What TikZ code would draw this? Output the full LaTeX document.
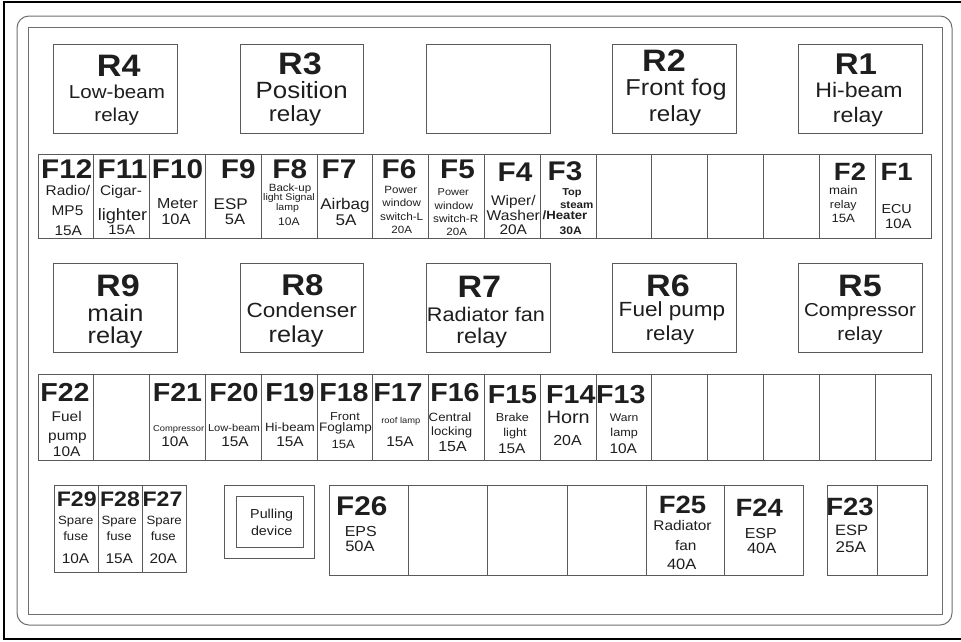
\documentclass[tikz,border=0pt]{standalone}
\usepackage{fontspec}
\newfontfamily\rg[FakeStretch=1.1]{Liberation Sans}
\definecolor{ln}{HTML}{5A5A5A}
\definecolor{fr}{HTML}{6E6E6E}
\definecolor{tc}{HTML}{1E1E1E}
\tikzset{
  txt/.style={anchor=base, inner sep=0pt, outer sep=0pt, text=tc},
  box/.style={draw=ln, line width=0.9pt, inner sep=0pt, outer sep=0pt},
}
\newcommand\bx[5]{%
  \pgfmathsetmacro\bw{#4-#2}\pgfmathsetmacro\bh{#5-#3}%
  \node[box, minimum width=\bw pt, minimum height=\bh pt] (#1) at ({(#2+#4)/2},{(#3+#5)/2}) {};}
\newcommand\T[5]{\node[txt] (#1) at (#2,#3) {\rg\fontsize{#4}{#4}\selectfont #5};}
\newcommand\B[5]{\node[txt] (#1) at (#2,#3) {\rg\bfseries\fontsize{#4}{#4}\selectfont #5};}
\begin{document}
\begin{tikzpicture}[x=1pt,y=-1pt]
\useasboundingbox (0,0) rectangle (961,641);
% frames
\draw[line width=2.5pt, black] (962,2) -- (4,2) -- (4,639) -- (962,639);
\draw[fr, line width=1pt, rounded corners=12pt] (17,16) rectangle (952,625);
\draw[fr, line width=1pt] (28,27) rectangle (942,614);
% relay boxes
\bx{R4}{53}{44}{177}{133}
\bx{R3}{240}{44}{363}{133}
\bx{RX}{426}{44}{550}{133}
\bx{R2}{612}{44}{736}{133}
\bx{R1}{798}{44}{922}{133}
\bx{R9}{53}{263}{177}{352}
\bx{R8}{240}{263}{363}{352}
\bx{R7}{426}{263}{550}{352}
\bx{R6}{612}{263}{736}{352}
\bx{R5}{798}{263}{922}{352}
% fuse strips
\foreach \i in {0,...,15}{%
  \pgfmathsetmacro\xa{38+55.8125*\i}\pgfmathsetmacro\xb{38+55.8125*(\i+1)}%
  \bx{ua\i}{\xa}{154}{\xb}{238}
  \bx{ub\i}{\xa}{374}{\xb}{460}}
% bottom row
\bx{s1}{54}{485}{98}{572}
\bx{s2}{98}{485}{142}{572}
\bx{s3}{142}{485}{186}{572}
\bx{pd}{224}{485}{314}{558}
\bx{pdi}{236}{496}{303}{547}
\bx{m1}{329}{485}{408}{575}
\bx{m2}{408}{485}{487}{575}
\bx{m3}{487}{485}{567}{575}
\bx{m4}{567}{485}{646}{575}
\bx{m5}{646}{485}{724}{575}
\bx{m6}{724}{485}{803}{575}
\bx{n1}{827}{485}{877}{575}
\bx{n2}{877}{485}{927}{575}
% relay texts row 1
\B{R4a}{118.7}{76}{31}{R4}
\T{R4b}{117}{98.3}{18.7}{Low-beam}
\T{R4c}{116.7}{121.7}{18.7}{relay}
\B{R3a}{300}{74}{31}{R3}
\T{R3b}{301.7}{98.3}{23.5}{Position}
\T{R3c}{295}{121.7}{22}{relay}
\B{R2a}{664}{71.7}{31}{R2}
\T{R2b}{676}{95}{23}{Front fog}
\T{R2c}{675}{121.7}{22}{relay}
\B{R1a}{856}{74.5}{30}{R1}
\T{R1b}{859}{97}{21}{Hi-beam}
\T{R1c}{858}{122}{21}{relay}
% relay texts row 2
\B{R9a}{118}{296.7}{31}{R9}
\T{R9b}{115.5}{321.7}{23.5}{main}
\T{R9c}{115}{343.3}{23}{relay}
\B{R8a}{302.5}{295.5}{30}{R8}
\T{R8b}{301.7}{317}{20.5}{Condenser}
\T{R8c}{296}{342}{23}{relay}
\B{R7a}{479.3}{297.7}{31}{R7}
\T{R7b}{486}{321.7}{19.7}{Radiator fan}
\T{R7c}{481.7}{343.3}{21.3}{relay}
\B{R6a}{668}{296.7}{31}{R6}
\T{R6b}{672}{316.7}{20.5}{Fuel pump}
\T{R6c}{670}{340}{20.3}{relay}
\B{R5a}{860}{296.7}{31}{R5}
\T{R5b}{860}{316.7}{18.7}{Compressor}
\T{R5c}{860}{340}{18.9}{relay}
% fuse row 1
\B{F12a}{66.7}{178.3}{27}{F12}
\T{F12b}{68}{195.7}{14}{Radio/}
\T{F12c}{67.5}{215.7}{14}{MP5}
\T{F12d}{68.3}{235.7}{14}{15A}
\B{F11a}{122.5}{178}{27}{F11}
\T{F11b}{121}{195}{14}{Cigar-}
\T{F11c}{122.5}{220}{16.5}{lighter}
\T{F11d}{121.7}{234}{13.5}{15A}
\B{F10a}{177.5}{178}{27}{F10}
\T{F10b}{177.5}{208.5}{14.5}{Meter}
\T{F10c}{176}{224}{15}{10A}
\B{F9a}{238.3}{178}{27}{F9}
\T{F9b}{230.8}{209.5}{15.5}{ESP}
\T{F9c}{235}{224}{15}{5A}
\B{F8a}{289.7}{178}{27}{F8}
\T{F8b}{290}{191}{10.5}{Back-up}
\T{F8c}{289}{200.5}{9.6}{light Signal}
\T{F8d}{287.5}{210}{9.6}{lamp}
\T{F8e}{289}{225.5}{11}{10A}
\B{F7a}{339}{178}{27}{F7}
\T{F7b}{345}{209.5}{15.5}{Airbag}
\T{F7c}{346}{225}{15.5}{5A}
\B{F6a}{399}{178}{27}{F6}
\T{F6b}{400.8}{193.3}{10.5}{Power}
\T{F6c}{401.7}{206.7}{10.5}{window}
\T{F6d}{401.7}{220}{10.7}{switch-L}
\T{F6e}{401.7}{233.3}{10.5}{20A}
\B{F5a}{457.5}{178}{27}{F5}
\T{F5b}{453.3}{195}{10}{Power}
\T{F5c}{454}{209}{10.5}{window}
\T{F5d}{455.8}{222.3}{10.7}{switch-R}
\T{F5e}{456.7}{235.7}{10.5}{20A}
\B{F4a}{515}{181.7}{27}{F4}
\T{F4b}{513.3}{205}{14}{Wiper/}
\T{F4c}{513.3}{220}{14.2}{Washer}
\T{F4d}{513.3}{234.5}{14}{20A}
\B{F3a}{565}{180}{27}{F3}
\B{F3b}{572}{195}{10}{Top}
\B{F3c}{576.7}{208.3}{10.5}{steam}
\B{F3d}{565}{219.5}{12}{/Heater}
\B{F3e}{570.8}{234.3}{11}{30A}
\B{F2a}{850}{180}{25}{F2}
\T{F2b}{843.3}{194}{12}{main}
\T{F2c}{843.3}{208}{11.2}{relay}
\T{F2d}{843.3}{222}{12}{15A}
\B{F1a}{896.7}{180}{25}{F1}
\T{F1b}{896.7}{213.3}{13}{ECU}
\T{F1c}{898.3}{228.3}{13.6}{10A}
% fuse row 2
\B{F22a}{65}{401.7}{26}{F22}
\T{F22b}{66.7}{421.7}{14}{Fuel}
\T{F22c}{67.5}{440.7}{14}{pump}
\T{F22d}{66.7}{456.7}{14}{10A}
\B{F21a}{177.5}{401.7}{26}{F21}
\T{F21b}{178.7}{431.7}{8.5}{Compressor}
\T{F21c}{175}{446.7}{14}{10A}
\B{F20a}{234}{401.7}{26}{F20}
\T{F20b}{234}{431}{10.1}{Low-beam}
\T{F20c}{235}{446.7}{14}{15A}
\B{F19a}{290}{401.7}{26}{F19}
\T{F19b}{290}{431}{12}{Hi-beam}
\T{F19c}{290}{446.7}{14}{15A}
\B{F18a}{344}{401.7}{26}{F18}
\T{F18b}{345}{420.5}{11.5}{Front}
\T{F18c}{345.5}{431.7}{12.3}{Foglamp}
\T{F18d}{343.3}{448.3}{12}{15A}
\B{F17a}{398}{401.7}{26}{F17}
\T{F17b}{400.8}{423.3}{8.5}{roof lamp}
\T{F17c}{400}{446.7}{14}{15A}
\B{F16a}{455}{401.7}{26}{F16}
\T{F16b}{450}{421.7}{12}{Central}
\T{F16c}{451.7}{435}{12}{locking}
\T{F16d}{452.5}{451.7}{14.5}{15A}
\B{F15a}{512.5}{403.3}{26}{F15}
\T{F15b}{512.5}{421}{11.5}{Brake}
\T{F15c}{515}{436}{11.5}{light}
\T{F15d}{511.7}{453.3}{14}{15A}
\B{F14a}{570.8}{403.3}{26}{F14}
\T{F14b}{568.3}{423.3}{18}{Horn}
\T{F14c}{567.5}{445}{14.5}{20A}
\B{F13a}{620.8}{403.3}{26}{F13}
\T{F13b}{624.2}{421.7}{11}{Warn}
\T{F13c}{624.2}{436}{11.5}{lamp}
\T{F13d}{623.3}{453.3}{14}{10A}
% bottom row texts
\B{F29a}{76.7}{506.7}{21}{F29}
\T{F29b}{75.8}{524.3}{12}{Spare}
\T{F29c}{75.8}{540}{12}{fuse}
\T{F29d}{75.5}{563.3}{14}{10A}
\B{F28a}{120}{506.7}{21}{F28}
\T{F28b}{119.2}{524.3}{12}{Spare}
\T{F28c}{119.2}{540}{12}{fuse}
\T{F28d}{119.2}{563.3}{14}{15A}
\B{F27a}{162.5}{506.7}{21}{F27}
\T{F27b}{164.2}{524.3}{12}{Spare}
\T{F27c}{163.3}{540}{12}{fuse}
\T{F27d}{163.3}{563.3}{14}{20A}
\T{pda}{271.7}{518.3}{13}{Pulling}
\T{pdb}{271.7}{535}{13}{device}
\B{F26a}{361.7}{515}{27}{F26}
\T{F26b}{360.8}{536.7}{14.5}{EPS}
\T{F26c}{360}{551.7}{15}{50A}
\B{F25a}{682.5}{513.3}{25}{F25}
\T{F25b}{682.5}{530}{14}{Radiator}
\T{F25c}{685.8}{550}{14}{fan}
\T{F25d}{681.7}{569.3}{15}{40A}
\B{F24a}{759.2}{516.7}{25}{F24}
\T{F24b}{760.8}{538.3}{14.5}{ESP}
\T{F24c}{761.7}{553.3}{15}{40A}
\B{F23a}{850}{515}{25}{F23}
\T{F23b}{851.7}{535}{15}{ESP}
\T{F23c}{850.8}{552.7}{15.5}{25A}
\end{tikzpicture}
\end{document}
